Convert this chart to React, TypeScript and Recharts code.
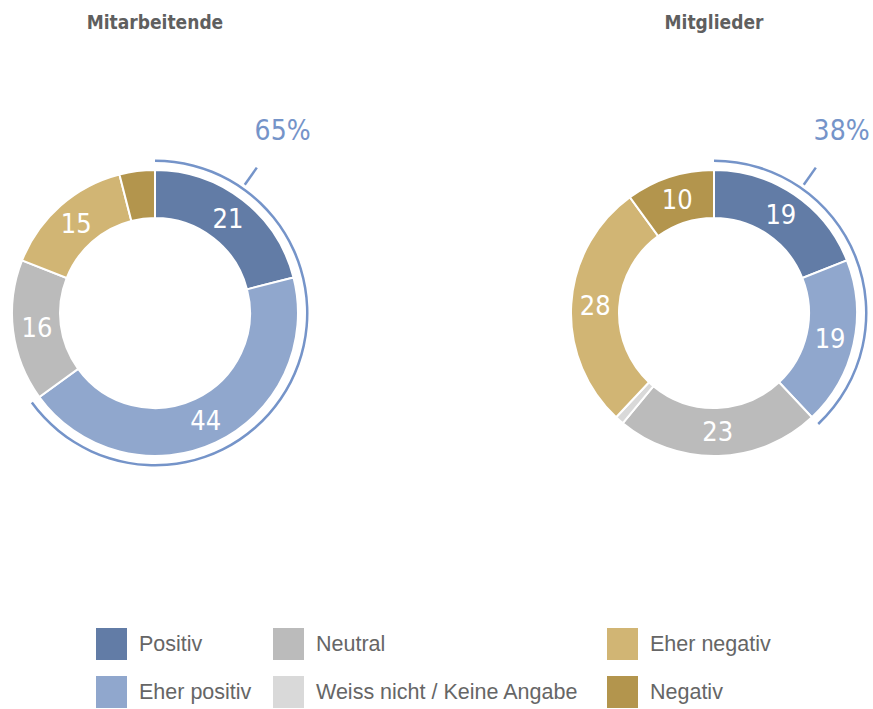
import React from 'react';
import { PieChart, Pie, Cell } from 'recharts';

const categories = ['Positiv', 'Eher positiv', 'Neutral', 'Weiss nicht / Keine Angabe', 'Eher negativ', 'Negativ'];
const colors = ['#627ca6', '#90a7cd', '#bbbbbb', '#d9d9d9', '#d1b574', '#b3954d'];
const mitarbeitendeValues = [21, 44, 16, 0, 15, 4];
const mitgliederValues = [19, 19, 23, 1, 28, 10];
const positiveShare = [65, 38];
const titles = ['Mitarbeitende', 'Mitglieder'];
const legendColumns = [[0, 1], [2, 3], [4, 5]];

const ACCENT = '#7594c9';
const NUM_FONT = "'DejaVu Sans Condensed', 'Liberation Sans', sans-serif";
const TEXT_FONT = "'Liberation Sans', Arial, sans-serif";
const RADIAN = Math.PI / 180;

const toData = (values: number[]) => categories.map((name, i) => ({ name, value: values[i] }));

const sliceLabel = (p: any) => {
  const { cx, cy, midAngle, innerRadius, outerRadius, value } = p;
  if (value < 5) return null;
  const r = (innerRadius + outerRadius) / 2;
  const x = cx + r * Math.cos(-midAngle * RADIAN);
  const y = cy + r * Math.sin(-midAngle * RADIAN);
  return (
    <text x={x} y={y} fill="#ffffff" fontSize={27} fontFamily={NUM_FONT} textAnchor="middle" dominantBaseline="central">
      {value}
    </text>
  );
};

const TICK_ANGLE = 35; // degrees clockwise from top
const arcLabel = (p: any) => {
  const { cx, cy, index, outerRadius, payload } = p;
  if (index !== 0) return null;
  const a = TICK_ANGLE * RADIAN;
  const dx = Math.sin(a);
  const dy = -Math.cos(a);
  const r0 = outerRadius + 3;
  const r1 = outerRadius + 24;
  const rt = outerRadius + 69;
  return (
    <g>
      <line x1={cx + r0 * dx} y1={cy + r0 * dy} x2={cx + r1 * dx} y2={cy + r1 * dy} stroke={ACCENT} strokeWidth={2.5} />
      <text x={cx + rt * dx} y={cy + rt * dy} fill={ACCENT} fontSize={28} fontFamily={NUM_FONT} textAnchor="middle" dominantBaseline="central">
        {payload.value}%
      </text>
    </g>
  );
};

const centersX = [155, 714];
const CY = 313;
const MARGIN = 5;

export default function App() {
  const datasets = [toData(mitarbeitendeValues), toData(mitgliederValues)];
  return (
    <div style={{ position: 'absolute', left: 0, top: 0, width: 873, height: 709, background: '#ffffff' }}>
      {titles.map((t, i) => (
        <div
          key={t}
          style={{
            position: 'absolute',
            left: centersX[i] - 120,
            width: 240,
            top: 11,
            textAlign: 'center',
            fontFamily: NUM_FONT,
            fontWeight: 700,
            fontSize: 19,
            color: '#5f5f5f',
          }}
        >
          {t}
        </div>
      ))}
      <div style={{ position: 'absolute', left: 0, top: 0 }}>
        <PieChart width={873} height={600} margin={{ top: MARGIN, right: MARGIN, bottom: MARGIN, left: MARGIN }}>
          {datasets.map((data, i) => (
            <Pie
              key={'p' + i}
              data={data}
              dataKey="value"
              cx={centersX[i] - MARGIN}
              cy={CY - MARGIN}
              innerRadius={95}
              outerRadius={143}
              startAngle={90}
              endAngle={-270}
              stroke="#ffffff"
              strokeWidth={2}
              isAnimationActive={false}
              label={sliceLabel}
              labelLine={false}
            >
              {data.map((d, j) => (
                <Cell key={j} fill={colors[j]} />
              ))}
            </Pie>
          ))}
          {positiveShare.map((v, i) => (
            <Pie
              key={'a' + i}
              data={[{ name: 'pos', value: v }, { name: 'rest', value: 100 - v }]}
              dataKey="value"
              cx={centersX[i] - MARGIN}
              cy={CY - MARGIN}
              innerRadius={151}
              outerRadius={153.5}
              startAngle={90}
              endAngle={-270}
              stroke="none"
              isAnimationActive={false}
              label={arcLabel}
              labelLine={false}
            >
              <Cell fill={ACCENT} />
              <Cell fill="none" />
            </Pie>
          ))}
        </PieChart>
      </div>
      {legendColumns.map((col, ci) => (
        <div key={ci}>
          {col.map((idx, ri) => (
            <div
              key={idx}
              style={{
                position: 'absolute',
                left: [96, 273, 607][ci],
                top: 628 + ri * 48,
                display: 'flex',
                alignItems: 'center',
                height: 32,
              }}
            >
              <div style={{ width: 31, height: 32, background: colors[idx] }} />
              <span style={{ marginLeft: 12, fontFamily: TEXT_FONT, fontSize: 21.5, color: '#666666' }}>{categories[idx]}</span>
            </div>
          ))}
        </div>
      ))}
    </div>
  );
}
